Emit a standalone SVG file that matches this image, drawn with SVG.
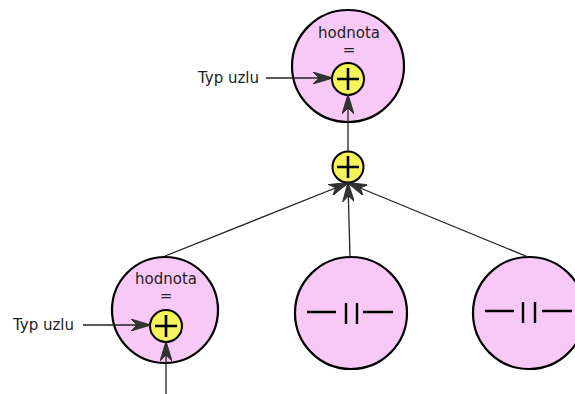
<svg xmlns="http://www.w3.org/2000/svg" width="575" height="394" viewBox="0 0 575 394">
  <style>
    .node { fill: #f8c8f6; stroke: #000; stroke-width: 2.2; }
    .op { fill: #f6f45a; stroke: #000; stroke-width: 2; }
    .plus { stroke: #000; stroke-width: 2.6; fill: none; }
    .sym { stroke: #000; stroke-width: 2.4; fill: none; }
    .edge { stroke: #222; stroke-width: 1.3; fill: none; marker-end: url(#arrow); }
    .lbl { font-family: "DejaVu Sans", sans-serif; font-size: 15px; fill: #222; }
  </style>
  <defs>
    <marker id="arrow" viewBox="0 0 20 12" refX="19" refY="6" markerWidth="20" markerHeight="12" markerUnits="userSpaceOnUse" orient="auto">
      <path d="M0,0 L20,6 L0,12 L6,6 Z" fill="#333" stroke="#222" stroke-width="0.8"/>
    </marker>
  </defs>

  <!-- root node -->
  <g id="root">
    <circle class="node" cx="348" cy="66" r="56"/>
    <text class="lbl" x="349" y="38" text-anchor="middle">hodnota</text>
    <text class="lbl" x="349" y="55" text-anchor="middle">=</text>
    <circle class="op" cx="348" cy="79" r="16"/>
    <path class="plus" d="M337,79 H359 M348,68 V90"/>
  </g>

  <!-- root type label -->
  <g id="root-type">
    <text class="lbl" x="198" y="83">Typ uzlu</text>
  </g>

  <!-- summing operator between levels -->
  <g id="sum">
    <circle class="op" cx="348" cy="167" r="15.5"/>
    <path class="plus" d="M337,167 H359 M348,156 V178"/>
  </g>

  <!-- left child -->
  <g id="child-left">
    <circle class="node" cx="165" cy="310" r="53"/>
    <text class="lbl" x="166" y="284" text-anchor="middle">hodnota</text>
    <text class="lbl" x="166" y="301" text-anchor="middle">=</text>
    <circle class="op" cx="166" cy="326" r="16"/>
    <path class="plus" d="M155,326 H177 M166,315 V337"/>
  </g>

  <g id="child-left-type">
    <text class="lbl" x="13" y="330">Typ uzlu</text>
  </g>

  <!-- middle child -->
  <g id="child-middle">
    <circle class="node" cx="351" cy="313" r="56"/>
    <path class="sym" d="M307,312 H336 M346,303 V324 M357,303 V324 M363,312 H393"/>
  </g>

  <!-- right child -->
  <g id="child-right">
    <circle class="node" cx="529" cy="313" r="56"/>
    <path class="sym" d="M485,311 H514 M523,302 V323 M535,302 V323 M542,311 H572"/>
  </g>

  <!-- connectors -->
  <g id="connectors">
    <line class="edge" x1="266" y1="78" x2="332" y2="78"/>
    <line class="edge" x1="348" y1="152" x2="348" y2="95"/>
    <line class="edge" x1="165" y1="256" x2="348" y2="183"/>
    <line class="edge" x1="350" y1="257" x2="348" y2="183"/>
    <line class="edge" x1="528" y1="257" x2="348" y2="183"/>
    <line class="edge" x1="83" y1="325" x2="150" y2="325"/>
    <line class="edge" x1="166" y1="394" x2="166" y2="342"/>
  </g>
</svg>
